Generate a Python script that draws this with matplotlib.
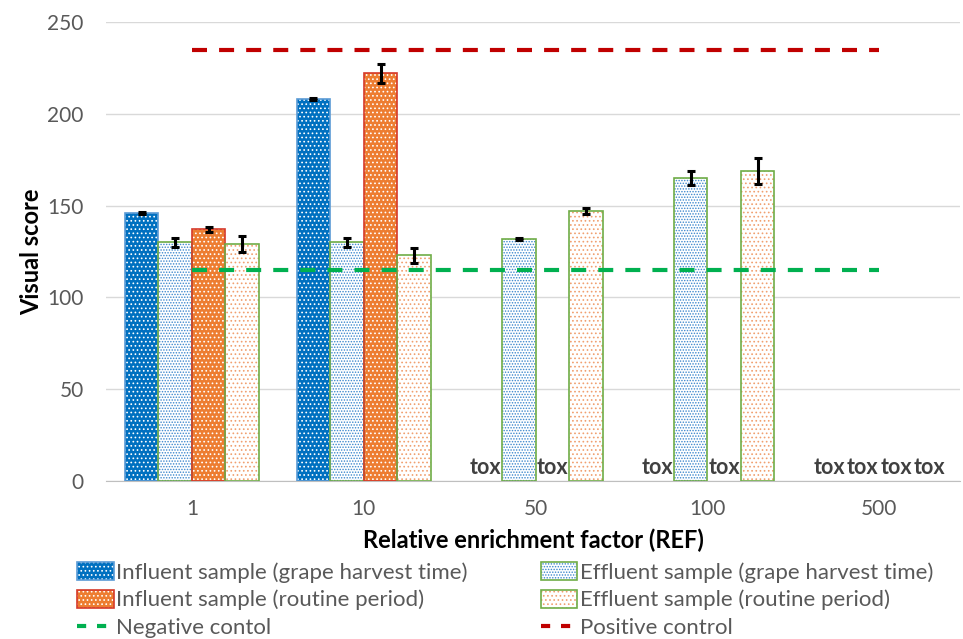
import numpy as np
import matplotlib
matplotlib.use('Agg')
import matplotlib.pyplot as plt
from matplotlib.patches import Patch
from matplotlib.lines import Line2D

plt.rcParams['font.family'] = ['Lato', 'DejaVu Sans']
plt.rcParams['hatch.linewidth'] = 0.7

# data (nan = toxic, labelled "tox")
ref_labels = ['1', '10', '50', '100', '500']
infl_grape = [146, 208, np.nan, np.nan, np.nan]
infl_grape_err = [0.5, 0.5, 0, 0, 0]
effl_grape = [130, 130, 132, 165, np.nan]
effl_grape_err = [2.5, 2.5, 0.5, 4, 0]
infl_routine = [137, 222, np.nan, np.nan, np.nan]
infl_routine_err = [1.5, 5, 0, 0, 0]
effl_routine = [129, 123, 147, 169, np.nan]
effl_routine_err = [4.5, 4, 1.5, 7, 0]
neg_control = 115
pos_control = 235

fig = plt.figure(figsize=(9.63, 6.39), dpi=100)
ax = fig.add_axes([106 / 963, 1 - 481 / 639, 854 / 963, 459 / 639])

x = np.arange(len(ref_labels))
w = 0.195
# (values, errors, face, hatch colour, edge colour, hatch)
series = [
    (infl_grape, infl_grape_err, '#0070C0', 'white', '#5B9BD5', '....'),
    (effl_grape, effl_grape_err, 'white', '#3A86CC', '#70AD47', '......'),
    (infl_routine, infl_routine_err, '#ED7D31', 'white', '#D63A2A', '....'),
    (effl_routine, effl_routine_err, 'white', '#F0A070', '#70AD47', '....'),
]
handles = []
for i, (vals, err, face, hcol, edge, hatch) in enumerate(series):
    pos = x + (i - 1.5) * w
    vals = np.array(vals, dtype=float)
    ax.bar(pos, vals, w, color=face, edgecolor=hcol, hatch=hatch, linewidth=0, zorder=2)
    ax.bar(pos, vals, w, fill=False, edgecolor=edge, linewidth=1.2, zorder=3)
    ok = ~np.isnan(vals)
    ax.errorbar(pos[ok], vals[ok], yerr=np.array(err)[ok], fmt='none', ecolor='black',
                elinewidth=2.2, capsize=3, capthick=2.2, zorder=4)
    # toxic samples: no bar, just a label
    for p, v in zip(pos, vals):
        if np.isnan(v):
            ax.text(p, 4, 'tox', ha='center', va='baseline', fontsize=15.5,
                    fontweight='bold', color='#404040', zorder=5)
    handles.append((Patch(facecolor=face, edgecolor=hcol, hatch=hatch, linewidth=0),
                    Patch(fill=False, edgecolor=edge, linewidth=1.2)))

ax.plot([x[0], x[-1]], [neg_control, neg_control], color='#00B050', lw=3,
        dashes=(3.6, 2.9), zorder=5)
ax.plot([x[0], x[-1]], [pos_control, pos_control], color='#C00000', lw=3,
        dashes=(3.6, 2.9), zorder=5)

ax.set_xlim(-0.5, 4.47)
ax.set_ylim(0, 250)
ax.set_yticks(range(0, 251, 50))
ax.set_xticks(x)
ax.set_xticklabels(ref_labels)
ax.yaxis.grid(True, color='#D9D9D9', lw=1)
ax.set_axisbelow(True)
for s in ['top', 'right', 'left']:
    ax.spines[s].set_visible(False)
ax.spines['bottom'].set_color('#BFBFBF')
ax.tick_params(axis='both', length=0, labelsize=15, colors='#595959')
ax.tick_params(axis='y', pad=16)
ax.tick_params(axis='x', pad=13)
ax.set_ylabel('Visual score', fontsize=17, fontweight='bold', labelpad=3)
ax.set_xlabel('Relative enrichment factor (REF)', fontsize=17, fontweight='bold', labelpad=7)

neg_h = Line2D([], [], color='#00B050', lw=3, dashes=(2.2, 2.6))
pos_h = Line2D([], [], color='#C00000', lw=3, dashes=(2.2, 2.6))
leg_handles = [handles[0], handles[2], neg_h, handles[1], handles[3], pos_h]
labels = ['Influent sample (grape harvest time)', 'Influent sample (routine period)',
          'Negative contol', 'Effluent sample (grape harvest time)',
          'Effluent sample (routine period)', 'Positive control']
leg = fig.legend(leg_handles, labels, ncol=2, loc='upper left',
                 bbox_to_anchor=(66 / 963, 1 - 551 / 639),
                 frameon=False, fontsize=16, handlelength=1.65, handleheight=0.85,
                 handletextpad=0.1, columnspacing=3.3, labelspacing=0.32,
                 borderpad=0)
for t in leg.get_texts():
    t.set_color('#595959')

fig.savefig('out.png', dpi=100)
